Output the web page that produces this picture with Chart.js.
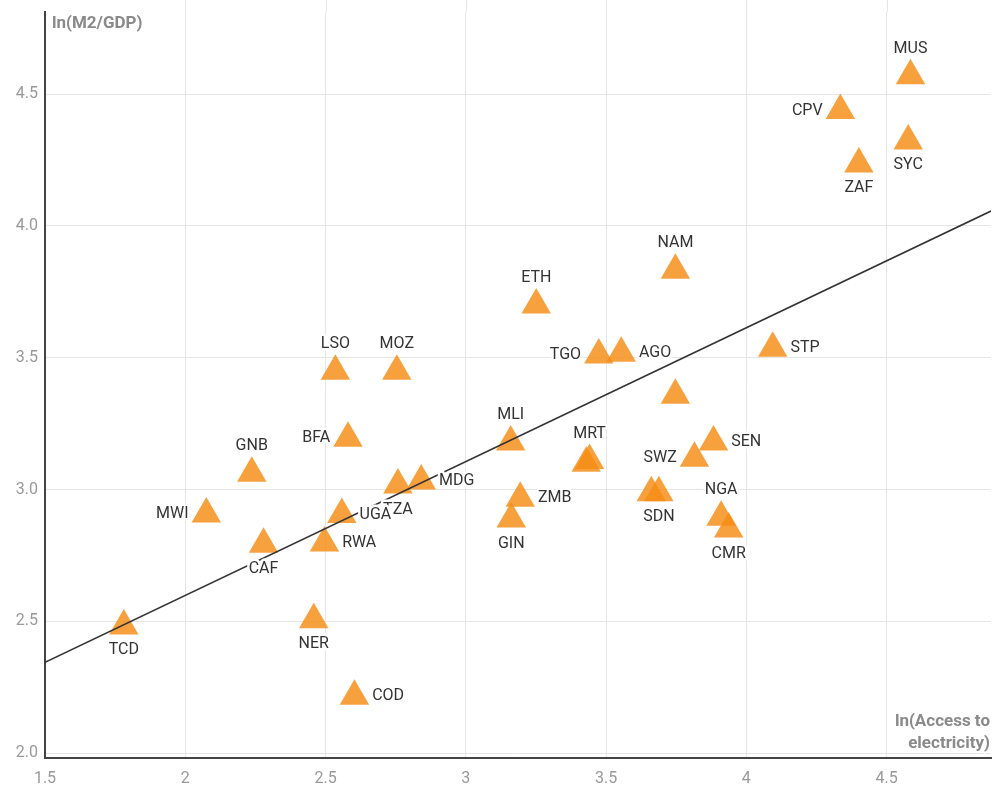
<!DOCTYPE html>
<html>
<head>
<meta charset="utf-8">
<script src="https://cdn.jsdelivr.net/npm/chart.js@4/dist/chart.umd.min.js"></script>
<style>
  html, body { margin: 0; padding: 0; background: #fff; }
  canvas { display: block; }
</style>
</head>
<body>
<canvas id="chart" width="995" height="787"></canvas>
<script>
// Country codes (empty string = point drawn without a label)
const codes = ['MUS','CPV','SYC','ZAF','NAM','ETH','TGO','AGO','STP','',
               'LSO','MOZ','BFA','GNB','MWI','CAF','TZA','UGA','RWA','MDG',
               'MLI','','MRT','ZMB','GIN','SWZ','SEN','','SDN','NGA',
               'CMR','TCD','NER','COD'];

// ln(Access to electricity)
const elecAccess = [4.585, 4.335, 4.577, 4.401, 3.747, 3.251, 3.474, 3.554, 4.094, 3.747,
                    2.535, 2.754, 2.580, 2.237, 2.075, 2.279, 2.758, 2.558, 2.496, 2.841,
                    3.160, 3.429, 3.441, 3.194, 3.162, 3.815, 3.883, 3.661, 3.688, 3.910,
                    3.937, 1.781, 2.458, 2.603];

// ln(M2/GDP)
const m2Gdp = [4.569, 4.437, 4.322, 4.235, 3.832, 3.700, 3.510, 3.517, 3.536, 3.358,
               3.449, 3.449, 3.195, 3.062, 2.907, 2.793, 3.017, 2.905, 2.797, 3.032,
               3.180, 3.100, 3.110, 2.967, 2.888, 3.119, 3.180, 2.988, 2.988, 2.895,
               2.850, 2.483, 2.506, 2.216];

// Fitted regression line end points
const fitX = [1.5, 4.872];
const fitY = [2.345, 4.056];

// Axis ticks
const xTicks = [1.5, 2, 2.5, 3, 3.5, 4, 4.5];
const yTicks = [2.0, 2.5, 3.0, 3.5, 4.0, 4.5];

// Which side of its marker each label sits on
const labelSide = {
  MUS:'top', CPV:'left', SYC:'bottom', ZAF:'bottom', NAM:'top', ETH:'top',
  TGO:'left', AGO:'right', STP:'right', LSO:'top', MOZ:'top', BFA:'left',
  GNB:'top', MWI:'left', CAF:'bottom', TZA:'bottom', UGA:'right', RWA:'right',
  MDG:'right', MLI:'top', MRT:'top', ZMB:'right', GIN:'bottom', SWZ:'left',
  SEN:'right', SDN:'bottom', NGA:'top', CMR:'bottom', TCD:'bottom',
  NER:'bottom', COD:'right'
};

const FONT = 'Roboto, "Noto Sans", sans-serif';
const R = 17;               // marker radius
const GRID = '#e6e6e6';

// Grid lines continue above the plot area to the top edge
const gridAbove = {
  id: 'gridAbove',
  beforeDatasetsDraw(chart) {
    const { ctx, chartArea, scales: { x } } = chart;
    ctx.save();
    ctx.strokeStyle = GRID;
    ctx.lineWidth = 1;
    xTicks.slice(1).forEach(v => {
      const px = Math.round(x.getPixelForValue(v)) + 0.5;
      ctx.beginPath();
      ctx.moveTo(px, 0);
      ctx.lineTo(px, chartArea.top);
      ctx.stroke();
    });
    ctx.restore();
  }
};

// Country code labels with a white halo
const pointLabels = {
  id: 'pointLabels',
  afterDatasetsDraw(chart) {
    const { ctx, scales: { x, y } } = chart;
    ctx.save();
    ctx.font = `16px ${FONT}`;
    ctx.lineJoin = 'round';
    ctx.textBaseline = 'middle';
    codes.forEach((c, i) => {
      if (!c) return;
      const px = x.getPixelForValue(elecAccess[i]);
      const py = y.getPixelForValue(m2Gdp[i]);
      let tx = px, ty = py, align = 'center';
      switch (labelSide[c]) {
        case 'top': ty = py - R - 10; break;
        case 'bottom': ty = py + R / 2 + 16; break;
        case 'left': tx = px - R * 0.866 - 3; align = 'right'; break;
        case 'right': tx = px + R * 0.866 + 3; align = 'left'; break;
      }
      ctx.textAlign = align;
      ctx.strokeStyle = '#fff';
      ctx.lineWidth = 5;
      ctx.strokeText(c, tx, ty);
      ctx.fillStyle = '#333';
      ctx.fillText(c, tx, ty);
    });
    ctx.restore();
  }
};

// Axis titles
const axisTitles = {
  id: 'axisTitles',
  afterDraw(chart) {
    const { ctx } = chart;
    ctx.save();
    ctx.font = `bold 17px ${FONT}`;
    ctx.fillStyle = '#8a8a8a';
    ctx.textBaseline = 'middle';
    ctx.textAlign = 'left';
    ctx.fillText('ln(M2/GDP)', 52, 24);
    ctx.textAlign = 'right';
    ctx.strokeStyle = '#fff';
    ctx.lineWidth = 4;
    ctx.lineJoin = 'round';
    ctx.strokeText('ln(Access to', 990, 722);
    ctx.fillText('ln(Access to', 990, 722);
    ctx.strokeText('electricity)', 990, 744);
    ctx.fillText('electricity)', 990, 744);
    ctx.restore();
  }
};

new Chart(document.getElementById('chart'), {
  data: {
    datasets: [
      {
        type: 'line',
        data: fitX.map((v, i) => ({ x: v, y: fitY[i] })),
        borderColor: '#333',
        borderWidth: 1.6,
        pointRadius: 0,
        tension: 0,
        order: 0
      },
      {
        type: 'scatter',
        data: elecAccess.map((v, i) => ({ x: v, y: m2Gdp[i] })),
        pointStyle: 'triangle',
        pointRadius: R,
        pointHoverRadius: R,
        backgroundColor: 'rgba(245,140,20,0.82)',
        borderWidth: 0,
        order: 1
      }
    ]
  },
  options: {
    responsive: false,
    animation: false,
    devicePixelRatio: 1,
    events: [],
    layout: { autoPadding: false, padding: { top: 12, right: 4, left: 0, bottom: 0 } },
    plugins: { legend: { display: false }, tooltip: { enabled: false } },
    scales: {
      x: {
        type: 'linear',
        min: 1.5,
        max: 4.872,
        afterBuildTicks: s => { s.ticks = xTicks.map(v => ({ value: v })); },
        afterFit: s => { s.height = 29; s.paddingLeft = 0; s.paddingRight = 0; },
        ticks: {
          font: { family: FONT, size: 16 },
          color: '#999',
          padding: 11,
          maxRotation: 0,
          callback: v => String(v)
        },
        grid: { color: GRID, drawTicks: false },
        border: { color: '#444', width: 2 }
      },
      y: {
        type: 'linear',
        min: 1.982,
        max: 4.811,
        afterBuildTicks: s => { s.ticks = yTicks.map(v => ({ value: v })); },
        afterFit: s => { s.width = 45; s.paddingTop = 0; s.paddingBottom = 0; },
        ticks: {
          font: { family: FONT, size: 16 },
          color: '#999',
          padding: 7,
          callback: v => Number(v).toFixed(1)
        },
        grid: { color: GRID, drawTicks: false },
        border: { color: '#444', width: 2 }
      }
    }
  },
  plugins: [gridAbove, pointLabels, axisTitles]
});
</script>
</body>
</html>
